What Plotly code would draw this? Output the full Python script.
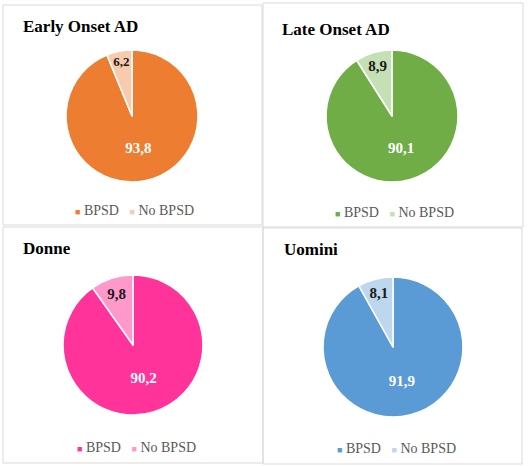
import plotly.graph_objects as go

W, H = 528, 466

titles = ["Early Onset AD", "Late Onset AD", "Donne", "Uomini"]
labels = ["BPSD", "No BPSD"]
bpsd = [93.8, 90.1, 90.2, 91.9]
no_bpsd = [6.2, 8.9, 9.8, 8.1]
colors_bpsd = ["#ED7D31", "#70AD47", "#FF3399", "#5B9BD5"]
colors_no = ["#F8CBAD", "#C5E0B4", "#FF99CC", "#BDD7EE"]

# geometry (pixels)
panels = [(3, 5, 262, 225), (263, 3, 523, 227), (3, 227, 263, 463), (263, 228, 522, 464)]
pie_geo = [(132, 116, 66), (392, 116, 66), (133, 345, 70), (393, 347, 70)]
title_pos = [(21, 27), (280, 29), (21, 248), (282, 250)]
legend_pos = [(134, 211), (394, 212), (136, 447), (396, 448)]

SERIF = "Liberation Serif"


def px(x):
    return x / W


def py(y):
    return 1 - y / H


fig = go.Figure()
shapes = []
annotations = []

for i in range(4):
    cx, cy, r = pie_geo[i]
    vals = [bpsd[i], no_bpsd[i]]
    texts = [f"{v:.1f}".replace(".", ",") for v in vals]
    fig.add_trace(go.Pie(
        labels=labels,
        values=vals,
        text=texts,
        texttemplate="<b>%{text}</b>",
        textposition="inside",
        insidetextorientation="horizontal",
        direction="clockwise",
        rotation=0,
        sort=False,
        marker=dict(colors=[colors_bpsd[i], colors_no[i]], line=dict(color="white", width=1.5)),
        insidetextfont=dict(family=SERIF, size=15, color=["white", "#1a1a1a"]),
        domain=dict(x=[px(cx - r), px(cx + r)], y=[py(cy + r), py(cy - r)]),
        showlegend=False,
        hoverinfo="label+value",
    ))
    x0, y0, x1, y1 = panels[i]
    shapes.append(dict(type="rect", xref="paper", yref="paper",
                       x0=px(x0), x1=px(x1), y0=py(y1), y1=py(y0),
                       line=dict(color="#d9d9d9", width=1), fillcolor="rgba(0,0,0,0)"))
    tx, ty = title_pos[i]
    annotations.append(dict(text=f"<b>{titles[i]}</b>", xref="paper", yref="paper",
                            x=px(tx), y=py(ty), xanchor="left", yanchor="middle",
                            showarrow=False, font=dict(family=SERIF, size=17, color="black")))
    lx, ly = legend_pos[i]
    cols = [colors_bpsd[i], colors_no[i]]
    parts = [f'<span style="color:{c};font-size:9px">■</span> {lab}' for c, lab in zip(cols, labels)]
    annotations.append(dict(text="   ".join(parts), xref="paper", yref="paper",
                            x=px(lx), y=py(ly), xanchor="center", yanchor="middle",
                            showarrow=False, font=dict(family=SERIF, size=14, color="#595959")))

fig.update_layout(
    width=W, height=H,
    margin=dict(l=0, r=0, t=0, b=0),
    paper_bgcolor="white",
    plot_bgcolor="white",
    shapes=shapes,
    annotations=annotations,
)

fig.write_html("out.html", config={"displayModeBar": False},
               post_script="document.body.style.margin='0';")
